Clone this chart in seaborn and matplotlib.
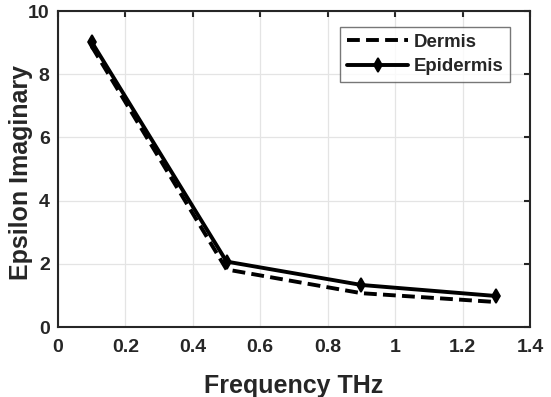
import matplotlib
matplotlib.use("Agg")
import matplotlib.pyplot as plt
import seaborn as sns
import pandas as pd

# data
freq = [0.1, 0.5, 0.9, 1.3]
dermis = [8.88, 1.82, 1.07, 0.79]
epidermis = [9.02, 2.07, 1.33, 0.98]

sns.set_style("whitegrid")
plt.rcParams['font.family'] = ['Liberation Sans', 'DejaVu Sans']
plt.rcParams['font.weight'] = 'bold'

df = pd.DataFrame({'freq': freq, 'Dermis': dermis, 'Epidermis': epidermis})

fig = plt.figure(figsize=(5.51, 3.97), dpi=100)
# axes box: x 58..530 px, y 11..327 px
ax = fig.add_axes([58 / 551, 1 - 327 / 397, 472 / 551, 316 / 397])

sns.lineplot(data=df, x='freq', y='Dermis', ax=ax, color='black', lw=2.8,
             linestyle=(0, (3.3, 1.6)), label='Dermis')
sns.lineplot(data=df, x='freq', y='Epidermis', ax=ax, color='black', lw=2.8,
             marker='d', markersize=7, markeredgecolor='black',
             markeredgewidth=1.2, label='Epidermis')

ax.set_xlim(0, 1.4)
ax.set_ylim(0, 10)
ax.set_xticks([0, 0.2, 0.4, 0.6, 0.8, 1.0, 1.2, 1.4])
ax.set_xticklabels(['0', '0.2', '0.4', '0.6', '0.8', '1', '1.2', '1.4'])
ax.set_yticks([0, 2, 4, 6, 8, 10])
ax.grid(True, color='#e4e4e4', lw=0.9)
for s in ax.spines.values():
    s.set_visible(True)
    s.set_color('#262626')
    s.set_linewidth(1.5)
ax.tick_params(axis='both', labelsize=14, colors='#262626', direction='in',
               length=4, width=1.5, top=True, right=True)
ax.tick_params(axis='x', pad=9)
ax.tick_params(axis='y', pad=6)
for lbl in ax.get_xticklabels() + ax.get_yticklabels():
    lbl.set_fontweight('bold')

ax.set_xlabel('Frequency THz', fontsize=18, fontweight='bold', color='#262626')
ax.set_ylabel('Epsilon Imaginary', fontsize=18, fontweight='bold', color='#262626')
ax.xaxis.set_label_coords(0.5, -0.15)
ax.yaxis.set_label_coords(-0.053, 0.49)

leg = ax.legend(loc='upper right', bbox_to_anchor=(0.958, 0.949), fontsize=13.4,
                frameon=True, fancybox=False, borderaxespad=0, borderpad=0.35,
                handlelength=3.3, handletextpad=0.3, labelspacing=0.4)
leg.get_frame().set_edgecolor('#555555')
leg.get_frame().set_linewidth(1.0)
for t in leg.get_texts():
    t.set_fontweight('bold')

fig.savefig('out.png', dpi=100)
